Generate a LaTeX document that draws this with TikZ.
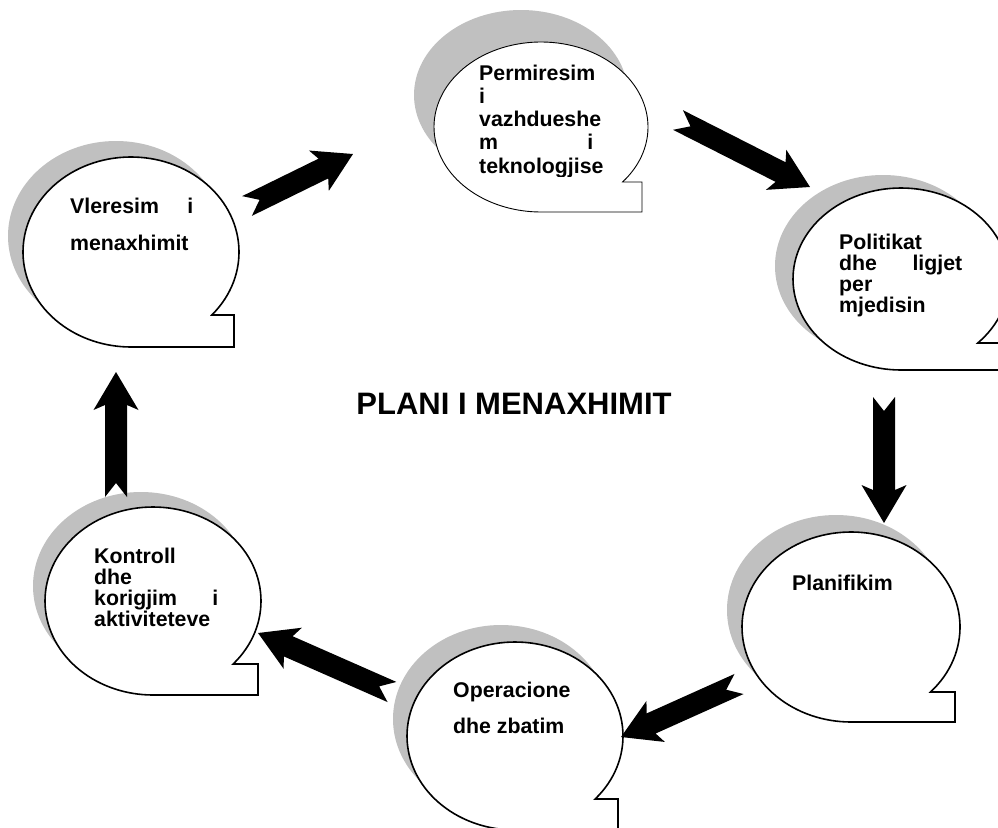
\documentclass[tikz,border=0pt]{standalone}
\usepackage{fontspec}
\setmainfont{Liberation Sans}
\usetikzlibrary{calc}
\definecolor{shadowgray}{RGB}{192,192,192}
\tikzset{
  bubble/.style={draw=black, fill=white, line width=1.6pt, line join=miter},
  bubbleshadow/.style={fill=shadowgray},
  bubbletext/.style={anchor=base west, inner sep=0pt, font=\bfseries},
  titletext/.style={font=\bfseries\fontsize{31}{31}\selectfont, inner sep=0pt, anchor=base},
  arrowfill/.style={fill=black},
}
% #1 options, #2 name, #3 cx, #4 cy, #5 rx, #6 ry, #7 notch angle, #8 tail x, #9 shadow shift
\newcommand\callout[9][]{%
  \fill[bubbleshadow, shift={#9}] (#3,#4) ellipse [x radius=#5, y radius=#6];
  \draw[bubble,#1] ({#3+#5*cos(#7)},{#4+#6*sin(#7)})
     arc[start angle=#7, end angle=-270, x radius=#5, y radius=#6]
     -- (#8,{#4+#6}) -- (#8,{#4+#6*sin(#7)}) -- cycle;
  \coordinate (#2) at (#3,#4);
}
\newcommand\blockarrow[2]{%
  \fill[arrowfill] let \p1=($(#2)-(#1)$), \n1={atan2(\y1,\x1)}, \n2={veclen(\x1,\y1)} in
   [shift={(#1)}, rotate=\n1]
   (0,11) -- ({\n2-33},11) -- ({\n2-38},22.5) -- (\n2,0) -- ({\n2-38},-22.5)
   -- ({\n2-33},-11) -- (0,-11) -- (14,0) -- cycle;
}
\newcommand\btext[3]{\parbox[t]{#1}{\fontsize{21.3}{#2}\selectfont\lineskiplimit=-100pt\relax #3}}
\begin{document}
\begin{tikzpicture}[x=1pt,y=-1pt]
\clip (0,0) rectangle (998,827);
\fill[white] (0,0) rectangle (998,827);

% callouts
\callout{vl}{131}{252}{108}{95}{41.5}{234}{(-15,-16)}
\callout[line width=0.9pt]{pm}{541}{127}{107}{85}{40.3}{642}{(-20,-32)}
\callout{po}{901}{279}{108}{91}{44.7}{1012}{(-18,-13)}
\callout{pl}{851}{627}{109}{95}{43.2}{955}{(-15,-17)}
\callout{op}{515}{736}{108}{94}{42.1}{618}{(-14,-17)}
\callout{ko}{153}{601}{108}{94}{42.1}{258}{(-12,-15)}

% texts
\node[bubbletext] (vltext) at (70,213) {\btext{123pt}{37}{Vleresim\hfill i\\menaxhimit}};
\begin{scope}
\clip (470,0) rectangle (640,176.5);
\node[bubbletext] (pmtext) at (479,80) {\btext{114pt}{23.3}{Permiresim\\i\\vazhdueshe\\m\hfill i\\teknologjise}};
\end{scope}
\node[bubbletext] (potext) at (839,249) {\btext{123pt}{21}{Politikat\\dhe\hfill ligjet\\per\\mjedisin}};
\node[bubbletext] (pltext) at (792,590) {\btext{123pt}{21}{Planifikim}};
\node[bubbletext] (optext) at (453,697) {\btext{123pt}{36}{Operacione\\dhe zbatim}};
\node[bubbletext] (kotext) at (94,563) {\btext{124pt}{21.3}{Kontroll\\dhe\\korigjim\hfill i\\aktiviteteve}};

\node[titletext] (title) at (514,414) {PLANI I MENAXHIMIT};

% arrows
\coordinate (a1s) at (247,206); \coordinate (a1e) at (353,154);
\coordinate (a2s) at (678,120); \coordinate (a2e) at (810,187);
\coordinate (a3s) at (884,397); \coordinate (a3e) at (884,523);
\coordinate (a4s) at (739,684); \coordinate (a4e) at (621,737);
\coordinate (a5s) at (392,692); \coordinate (a5e) at (258,633);
\coordinate (a6s) at (116,497); \coordinate (a6e) at (116,372);
\blockarrow{a1s}{a1e}
\blockarrow{a2s}{a2e}
\blockarrow{a3s}{a3e}
\blockarrow{a4s}{a4e}
\blockarrow{a5s}{a5e}
\blockarrow{a6s}{a6e}
\end{tikzpicture}
\end{document}
